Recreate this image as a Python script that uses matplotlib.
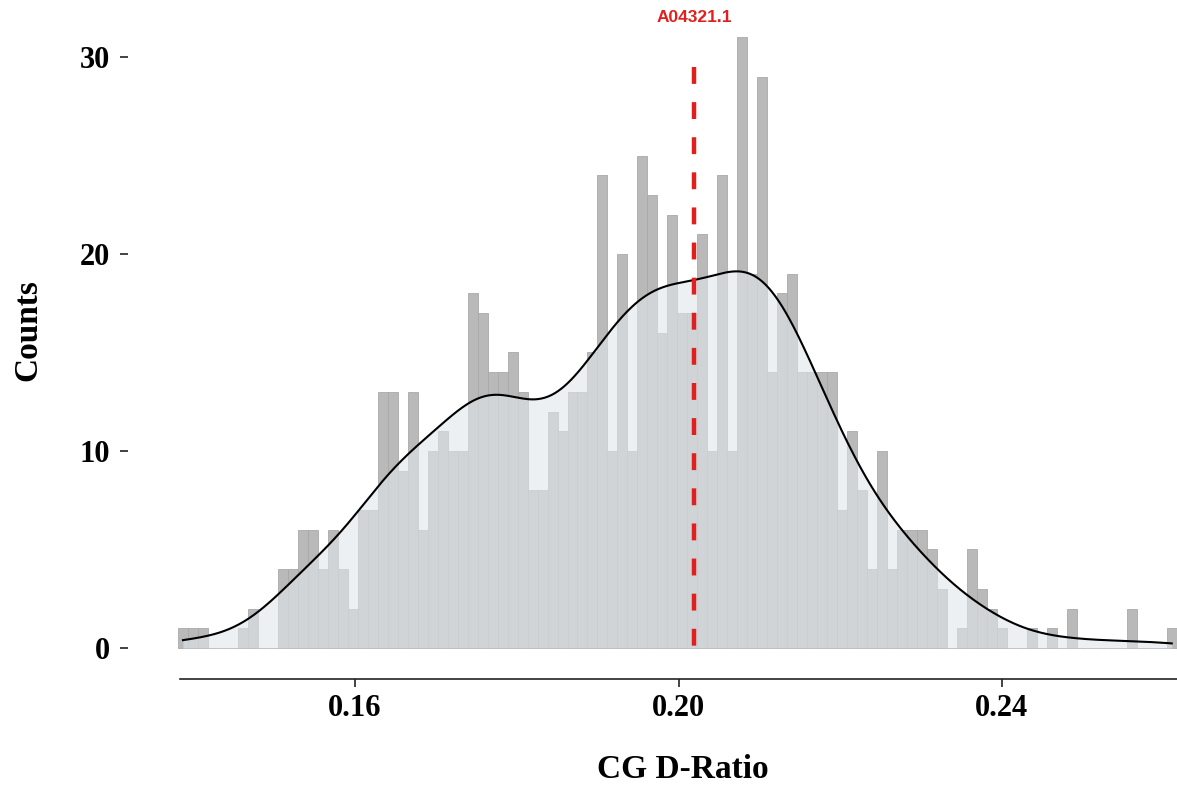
import numpy as np
import matplotlib
matplotlib.use("Agg")
import matplotlib.pyplot as plt

# Histogram of CG D-Ratio values: 100 equal-width bins
bin_start = 0.13811
bin_width = 0.001235
counts = [
    1, 1, 1, 0, 0, 0, 1, 2, 0, 0,
    4, 4, 6, 6, 4, 6, 4, 2, 7, 7,
    13, 13, 9, 13, 6, 10, 11, 10, 10, 18,
    17, 14, 14, 15, 13, 8, 8, 12, 11, 13,
    13, 15, 24, 10, 20, 10, 25, 23, 16, 22,
    17, 17, 21, 10, 24, 10, 31, 19, 29, 14,
    18, 19, 14, 14, 14, 14, 7, 11, 8, 4,
    10, 4, 6, 6, 6, 5, 3, 0, 1, 5,
    3, 2, 1, 0, 0, 1, 0, 1, 0, 2,
    0, 0, 0, 0, 0, 2, 0, 0, 0, 1,
]
x_ticks = [0.16, 0.20, 0.24]
x_tick_labels = ["0.16", "0.20", "0.24"]
y_ticks = [0, 10, 20, 30]
ref_value = 0.2019
ref_label = "A04321.1"

counts = np.asarray(counts, dtype=float)
edges = bin_start + bin_width * np.arange(len(counts) + 1)
centers = 0.5 * (edges[:-1] + edges[1:])

# Kernel density estimate (Silverman's rule), scaled to counts per bin
samples = np.repeat(centers, counts.astype(int))
n = samples.size
sd = samples.std(ddof=1)
q75, q25 = np.percentile(samples, [75, 25])
bw = 0.9 * min(sd, (q75 - q25) / 1.34) * n ** -0.2
grid = np.linspace(samples.min(), samples.max(), 600)
dens = np.exp(-0.5 * ((grid[:, None] - samples[None, :]) / bw) ** 2).sum(axis=1)
dens = dens / (n * bw * np.sqrt(2 * np.pi))
dens_counts = dens * n * bin_width

W, H = 1177, 788
fig = plt.figure(figsize=(W / 100, H / 100), dpi=100)
ax = fig.add_axes([128 / W, (H - 678.5) / H, (W - 128) / W, (678.5 - 6.8) / H])

ax.bar(edges[:-1], counts, width=bin_width, align="edge",
       color="#b9b9b9", edgecolor="#a9a9a9", linewidth=0.6, zorder=2)
ax.fill_between(grid, 0, dens_counts, color="#e0e7ec", alpha=0.6,
                linewidth=0, zorder=3)
ax.plot(grid, dens_counts, color="black", lw=1.5, zorder=4)

ax.plot([ref_value, ref_value], [29.5, 0], color="#e0201e", lw=3.2,
        dashes=(3.8, 4.1), zorder=5)
ax.text(ref_value, 32.0, ref_label, color="#e0201e", ha="center", va="center",
        fontsize=12.5, fontweight="bold", family="Liberation Sans")

ax.set_xlim(0.13193, 0.26164)
ax.set_ylim(-1.55, 32.55)

for s in ("top", "right", "left"):
    ax.spines[s].set_visible(False)
ax.spines["bottom"].set_bounds(0.13836, 0.26164)
ax.spines["bottom"].set_linewidth(1.2)
ax.spines["bottom"].set_color("#222222")

tick_font = dict(family="Liberation Serif", weight="bold", size=22)
ax.set_xticks(x_ticks)
ax.set_xticklabels(x_tick_labels, **tick_font)
ax.set_yticks(y_ticks)
ax.set_yticklabels([str(v) for v in y_ticks], **tick_font)
ax.tick_params(axis="x", length=6, width=1.2, color="#222222", pad=5)
ax.tick_params(axis="y", length=6, width=1.2, color="#222222", pad=7)

fig.text(683 / W, 1 - 770 / H, "CG D-Ratio", ha="center", va="center",
         family="Liberation Serif", weight="bold", size=24)
fig.text(28 / W, 1 - 330 / H, "Counts", ha="center", va="center",
         rotation=90, family="Liberation Serif", weight="bold", size=24)

fig.savefig("out.png", dpi=100)
